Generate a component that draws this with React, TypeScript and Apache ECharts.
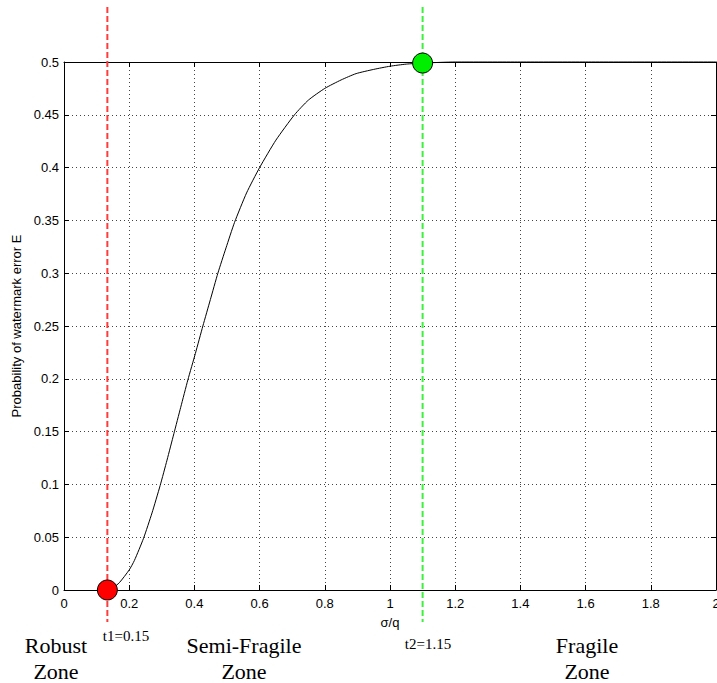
import React, { useEffect, useRef } from "react";
import * as echarts from "echarts";

const curveX = [0.133, 0.15, 0.17, 0.2, 0.216, 0.244, 0.27, 0.295, 0.316, 0.337, 0.358, 0.38, 0.403, 0.426, 0.449, 0.472, 0.497, 0.523, 0.56, 0.6, 0.65, 0.707, 0.75, 0.8, 0.85, 0.896, 0.95, 1.0, 1.05, 1.1, 1.2, 1.4, 1.6, 1.8, 2.0];
const curveY = [0, 0.002, 0.007, 0.019, 0.028, 0.049, 0.073, 0.099, 0.123, 0.148, 0.173, 0.199, 0.224, 0.25, 0.275, 0.3, 0.324, 0.348, 0.376, 0.4, 0.426, 0.45, 0.464, 0.475, 0.483, 0.489, 0.493, 0.496, 0.498, 0.499, 0.5, 0.5, 0.5, 0.5, 0.5];

const thresholdX = [0.133, 1.1];
const thresholdY = [0, 0.499];
const thresholdColors = ["#ff3c3c", "#3cf03c"];
const dotColors = ["#ff0000", "#00ee00"];
const thresholdLabels = ["t1=0.15", "t2=1.15"];
const zoneLabels = ["Robust\nZone", "Semi-Fragile\nZone", "Fragile\nZone"];

const xTicks = { min: 0, max: 2, interval: 0.2 };
const yTicks = { min: 0, max: 0.5, interval: 0.05 };

const fmt = (v: number) => String(parseFloat(v.toFixed(2)));

export default function App() {
  const ref = useRef<HTMLDivElement>(null);
  useEffect(() => {
    if (!ref.current) return;
    const chart = echarts.init(ref.current, null, { renderer: "svg" });
    const sans = "Liberation Sans, Arial, sans-serif";
    const serif = "Liberation Serif, Times New Roman, serif";
    const axisLine = { show: true, onZero: false, lineStyle: { color: "#000", width: 1 } };
    const tick = { show: true, inside: true, length: 5, lineStyle: { color: "#000" } };
    const split = { show: true, lineStyle: { color: "#444", type: [1, 3], width: 1 } };
    chart.setOption({
      animation: false,
      backgroundColor: "#fff",
      grid: { left: 64, right: 1, top: 62, bottom: 93, outerBoundsMode: "none", containLabel: false },
      xAxis: [
        {
          type: "value", ...xTicks, position: "bottom",
          name: "σ/q", nameLocation: "middle", nameGap: 26,
          nameTextStyle: { fontFamily: sans, fontSize: 13, color: "#000" },
          axisLine, axisTick: tick, splitLine: split,
          axisLabel: { formatter: fmt, fontFamily: sans, fontSize: 13, color: "#000", margin: 7 },
        },
        {
          type: "value", ...xTicks, position: "top",
          axisLine, axisTick: tick, splitLine: { show: false }, axisLabel: { show: false },
        },
      ],
      yAxis: [
        {
          type: "value", ...yTicks, position: "left",
          name: "Probability of watermark error E", nameLocation: "middle", nameGap: 37, nameRotate: 90,
          nameTextStyle: { fontFamily: sans, fontSize: 13, color: "#000" },
          axisLine, axisTick: tick, splitLine: split,
          axisLabel: { formatter: fmt, fontFamily: sans, fontSize: 13, color: "#000", margin: 5 },
        },
        {
          type: "value", ...yTicks, position: "right",
          axisLine, axisTick: tick, splitLine: { show: false }, axisLabel: { show: false },
        },
      ],
      series: [
        {
          type: "line",
          data: curveX.map((x, i) => [x, curveY[i]]),
          showSymbol: false,
          smooth: 0.2,
          lineStyle: { color: "#000", width: 1 },
          clip: false,
          z: 3,
        },
        {
          type: "custom",
          clip: false,
          z: 2,
          data: thresholdX.map((x, i) => [x, i]),
          renderItem: (params: any, api: any) => {
            const x = api.coord([api.value(0), 0])[0];
            const idx = api.value(1);
            return {
              type: "line",
              shape: { x1: x, y1: 7, x2: x, y2: 622 },
              style: { stroke: thresholdColors[idx], lineWidth: 2, lineDash: [6, 3] },
            };
          },
        },
        {
          type: "scatter",
          clip: false,
          z: 4,
          symbolSize: 20,
          data: thresholdX.map((x, i) => ({
            value: [x, thresholdY[i]],
            itemStyle: { color: dotColors[i], borderColor: "#000", borderWidth: 1, opacity: 1 },
          })),
        },
      ],
      graphic: [
        { type: "text", x: 126, y: 643, style: { text: thresholdLabels[0], font: `15px ${serif}`, fill: "#000", textAlign: "center", textVerticalAlign: "bottom" } },
        { type: "text", x: 428, y: 651, style: { text: thresholdLabels[1], font: `15px ${serif}`, fill: "#000", textAlign: "center", textVerticalAlign: "bottom" } },
        { type: "text", x: 56, y: 632, style: { text: zoneLabels[0], font: `22px ${serif}`, lineHeight: 26, fill: "#000", align: "center", verticalAlign: "top" } },
        { type: "text", x: 244, y: 632, style: { text: zoneLabels[1], font: `22px ${serif}`, lineHeight: 26, fill: "#000", align: "center", verticalAlign: "top" } },
        { type: "text", x: 587, y: 632, style: { text: zoneLabels[2], font: `22px ${serif}`, lineHeight: 26, fill: "#000", align: "center", verticalAlign: "top" } },
      ],
    });
    return () => chart.dispose();
  }, []);
  return <div ref={ref} style={{ position: "fixed", left: 0, top: 0, width: 717, height: 683, background: "#fff" }} />;
}
